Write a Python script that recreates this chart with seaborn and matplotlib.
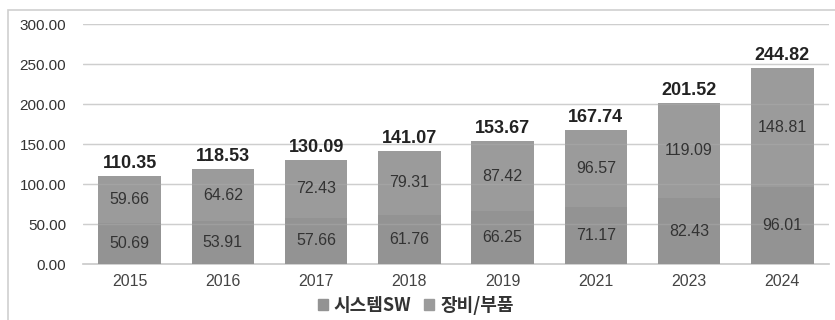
import matplotlib
matplotlib.use("Agg")
import matplotlib.pyplot as plt
import seaborn as sns
import pandas as pd
from matplotlib.patches import Rectangle

years = ["2015", "2016", "2017", "2018", "2019", "2021", "2023", "2024"]
system_sw = [50.69, 53.91, 57.66, 61.76, 66.25, 71.17, 82.43, 96.01]
equipment = [59.66, 64.62, 72.43, 79.31, 87.42, 96.57, 119.09, 148.81]
totals = [110.35, 118.53, 130.09, 141.07, 153.67, 167.74, 201.52, 244.82]
y_ticks = [0, 50, 100, 150, 200, 250, 300]
series_names = ["시스템SW", "장비/부품"]

df = pd.DataFrame({"year": years, "sw": system_sw, "eq": equipment, "total": totals})

sns.set_style("white")
plt.rcParams["font.family"] = ["Liberation Sans", "Noto Sans CJK KR", "DejaVu Sans"]

fig = plt.figure(figsize=(8.35, 3.2), dpi=100)
ax = fig.add_axes([0.0994, 0.175, 0.8934, 0.75])

col_sw = "#939393"
col_eq = "#9b9b9b"

# stacked bars: full height in the upper-segment colour, lower segment drawn over it
sns.barplot(data=df, x="year", y="total", color=col_eq, saturation=1, width=0.67,
            ax=ax, zorder=2, edgecolor="none")
sns.barplot(data=df, x="year", y="sw", color=col_sw, saturation=1, width=0.67,
            ax=ax, zorder=3, edgecolor="none")

ax.set_ylim(0, 300)
ax.set_xlim(-0.5, len(years) - 0.5)
ax.set_yticks(y_ticks)
ax.set_yticklabels([f"{v:.2f}" for v in y_ticks], fontsize=11, color="#333333")
ax.tick_params(axis="x", labelsize=11.5, colors="#444444", length=0, pad=7)
ax.tick_params(axis="y", length=0, pad=12)
ax.set_xlabel("")
ax.set_ylabel("")

# gridlines behind the bars, plus a faint echo across them
for v in y_ticks[1:]:
    ax.axhline(v, color="#dcdcdc", lw=1, zorder=1)
    ax.axhline(v, color="#b4b4b4", lw=1, alpha=0.35, zorder=4)

for s in ["left", "right", "top"]:
    ax.spines[s].set_visible(False)
ax.spines["bottom"].set_color("#c8c8c8")
ax.spines["bottom"].set_linewidth(1.2)

for i, (a, b, t) in enumerate(zip(system_sw, equipment, totals)):
    ax.text(i, a / 2, f"{a:.2f}", ha="center", va="center", fontsize=11.5,
            color="#333333", zorder=5)
    ax.text(i, a + b / 2, f"{b:.2f}", ha="center", va="center", fontsize=11.5,
            color="#333333", zorder=5)
    ax.text(i, t + 5, f"{t:.2f}", ha="center", va="bottom", fontsize=13,
            fontweight="bold", color="#222222", zorder=5)

handles = [Rectangle((0, 0), 1, 1, color=col_sw), Rectangle((0, 0), 1, 1, color=col_eq)]
leg = fig.legend(handles, series_names, loc="center", bbox_to_anchor=(0.498, 0.045),
                 ncol=2, frameon=False, handlelength=0.55, handleheight=0.55,
                 handletextpad=0.35, columnspacing=0.7,
                 prop={"family": ["Noto Sans CJK KR"], "weight": "bold", "size": 13})
for t in leg.get_texts():
    t.set_color("#333333")

# light outer frame
fig.patches.append(Rectangle((8 / 835, -0.1), 1.1, 1 - 10 / 320 + 0.1,
                             transform=fig.transFigure, fill=False,
                             edgecolor="#cfcfcf", lw=1.2))

fig.savefig("out.png", dpi=100)
